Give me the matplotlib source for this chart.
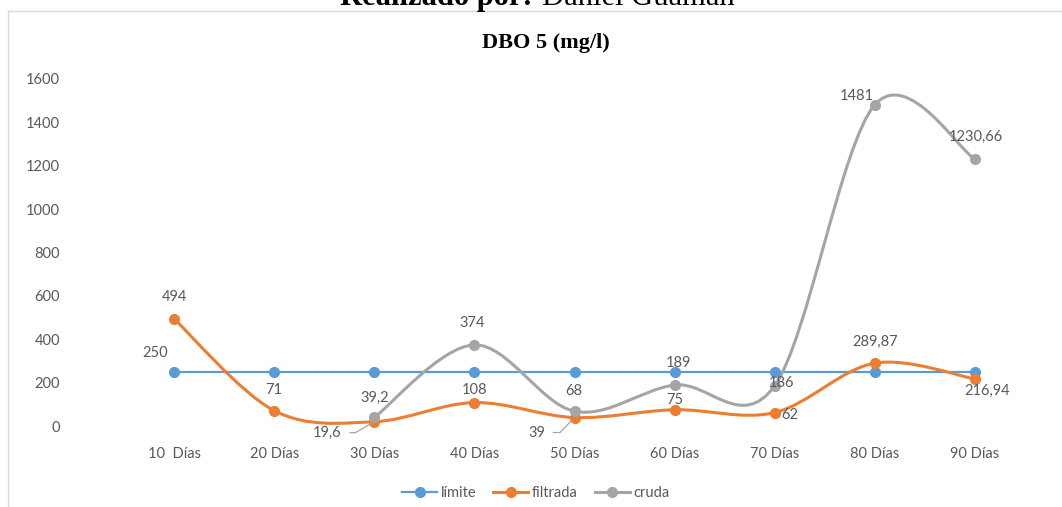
import matplotlib
matplotlib.use("Agg")
import matplotlib.pyplot as plt
from matplotlib.path import Path
from matplotlib.patches import PathPatch
from matplotlib.lines import Line2D
import numpy as np

categories = ["10  Días", "20 Días", "30 Días", "40 Días", "50 Días",
              "60 Días", "70 Días", "80 Días", "90 Días"]
limite = [250, 250, 250, 250, 250, 250, 250, 250, 250]
filtrada = [494, 71, 19.6, 108, 39, 75, 62, 289.87, 216.94]
cruda = [None, None, 39.2, 374, 68, 189, 186, 1481, 1230.66]

filtrada_labels = ["494", "71", "19,6", "108", "39", "75", "62", "289,87", "216,94"]
cruda_labels = [None, None, "39,2", "374", "68", "189", "186", "1481", "1230,66"]
limite_labels = ["250"] + [None] * 8

# label placement offsets in pixels (dx, dy up), leader angle (0 = no leader)
filtrada_pos = [(0, 22, 0), (0, 21, 0), (-47, -11, 30), (0, 13, 0), (-38, -15, 46),
                (0, 10, 0), (15, -2, 0), (0, 21, 0), (12, -12, 0)]
cruda_pos = [None, None, (0, 20, 0), (-2, 22, 0), (-1, 20, 0), (4, 22, 0),
             (7, 3, 0), (-18, 9, 0), (1, 22, 0)]
limite_pos = [(-19, 19, 0)] + [None] * 8

BLUE = "#5B9BD5"
ORANGE = "#ED7D31"
GRAY = "#A5A5A5"
TXT = "#595959"

plt.rcParams['font.family'] = ['Lato', 'DejaVu Sans']

W, H = 1062, 507
fig = plt.figure(figsize=(W / 100, H / 100), dpi=100)
ax = fig.add_axes([124 / W, (H - 426) / H, (1025 - 124) / W, (426 - 79) / H])

x = np.arange(len(categories))
ax.set_xlim(-0.5, len(categories) - 0.5)
ax.set_ylim(0, 1600)
ax.set_yticks(np.arange(0, 1601, 200))
ax.set_xticks(x)
ax.set_xticklabels(categories)
for s in ax.spines.values():
    s.set_visible(False)
ax.tick_params(axis='both', length=0, labelsize=10.5, labelcolor=TXT)
ax.tick_params(axis='y', pad=46)
ax.tick_params(axis='x', pad=15)


def smooth_path(xs, ys):
    P = np.array(list(zip(xs, ys)), dtype=float)
    n = len(P)
    verts = [tuple(P[0])]
    codes = [Path.MOVETO]
    for i in range(n - 1):
        p0 = P[i - 1] if i > 0 else P[i]
        p1 = P[i]
        p2 = P[i + 1]
        p3 = P[i + 2] if i + 2 < n else P[i + 1]
        c1 = p1 + (p2 - p0) / 6.0
        c2 = p2 - (p3 - p1) / 6.0
        verts += [tuple(c1), tuple(c2), tuple(p2)]
        codes += [Path.CURVE4] * 3
    return Path(verts, codes)


def draw_series(vals, color, lw, smooth=True):
    xs = [xi for xi, v in zip(x, vals) if v is not None]
    ys = [v for v in vals if v is not None]
    if smooth:
        patch = PathPatch(smooth_path(xs, ys), facecolor='none', edgecolor=color,
                          lw=lw, clip_on=False, zorder=2, capstyle='round')
        ax.add_patch(patch)
    else:
        ax.plot(xs, ys, color=color, lw=lw, zorder=2, clip_on=False)
    ax.plot(xs, ys, linestyle='none', marker='o', ms=7, color=color,
            zorder=3, clip_on=False)


draw_series(limite, BLUE, 1.6, smooth=False)
draw_series(filtrada, ORANGE, 2.2)
draw_series(cruda, GRAY, 2.2)


def labels(vals, labs, poss):
    for xi, v, lab, pos in zip(x, vals, labs, poss):
        if lab is None or pos is None:
            continue
        dx, dy, leader = pos
        kw = {}
        if leader:
            kw['arrowprops'] = dict(arrowstyle='-', color=GRAY, lw=0.9,
                                    relpos=(1.0, 0.5), shrinkA=4, shrinkB=3,
                                    connectionstyle='angle,angleA=0,angleB=%d,rad=0' % leader)
        ax.annotate(lab, xy=(xi, v), xytext=(dx * 0.72, dy * 0.72),
                    textcoords='offset points', ha='center', va='center',
                    fontsize=10.5, color=TXT, zorder=5, **kw)


labels(limite, limite_labels, limite_pos)
labels(filtrada, filtrada_labels, filtrada_pos)
labels(cruda, cruda_labels, cruda_pos)

# titles
fig.text(546 / W, 1 - 43 / H, "DBO 5 (mg/l)", ha='center', va='center',
         fontsize=16, fontweight='bold', family='Liberation Serif', color='black')
fig.text(533 / W, 1 - 5 / H, "Realizado por:", ha='right', va='baseline',
         fontsize=22, fontweight='bold', family='Liberation Serif', color='black')
fig.text(542 / W, 1 - 5 / H, "Daniel Guamán", ha='left', va='baseline',
         fontsize=22, family='Liberation Serif', color='black')

# chart border
fig.add_artist(Line2D([8 / W, 1.0], [1 - 11 / H, 1 - 11 / H], color='#D9D9D9', lw=1))
fig.add_artist(Line2D([8 / W, 8 / W], [0.0, 1 - 11 / H], color='#D9D9D9', lw=1))

# legend
handles = [Line2D([], [], color=BLUE, lw=1.6, marker='o', ms=7),
           Line2D([], [], color=ORANGE, lw=2.2, marker='o', ms=7),
           Line2D([], [], color=GRAY, lw=2.2, marker='o', ms=7)]
leg = fig.legend(handles, ["límite", "filtrada", "cruda"], loc='center',
                 bbox_to_anchor=(536 / W, 1 - 493 / H), ncol=3, frameon=False,
                 fontsize=10.5, handlelength=2.4, handletextpad=0.25,
                 columnspacing=1.15, labelcolor=TXT)

fig.savefig("out.png", dpi=100)
